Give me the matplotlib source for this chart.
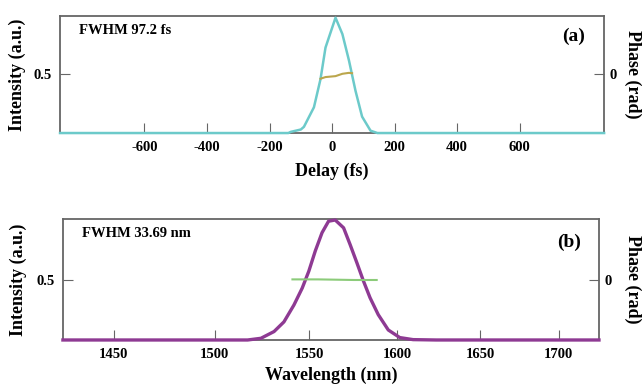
import numpy as np
import matplotlib
matplotlib.use('Agg')
import matplotlib.pyplot as plt

plt.rcParams['font.family'] = ['Liberation Serif', 'DejaVu Serif']
plt.rcParams['font.weight'] = 'bold'
plt.rcParams['axes.unicode_minus'] = False

# temporal profile
delay = [-870, -140, -132, -100, -90, -58, -37, -21, 11, 33, 54, 75, 96, 123, 145, 870]
pulse = [0, 0, 0.01, 0.03, 0.053, 0.22, 0.46, 0.73, 0.985, 0.845, 0.62, 0.36, 0.14, 0.02, 0, 0]
delay_ph = [-37, -21, 11, 33, 54, 64]
phase_t = [-0.072, -0.044, -0.028, 0.012, 0.028, 0.022]

# spectrum
wl = [1426, 1517.1, 1524.1, 1531.1, 1536.4, 1541.8, 1546.3, 1549.9, 1553.5, 1557.2,
      1560.8, 1564.5, 1569.2, 1572.9, 1576.7, 1580.4, 1584.2, 1588.9, 1594.7,
      1601.4, 1609.2, 1623.0, 1727]
spec = [0, 0, 0.014, 0.07, 0.15, 0.29, 0.43, 0.57, 0.74, 0.89,
        0.985, 0.995, 0.93, 0.79, 0.64, 0.49, 0.35, 0.21, 0.083,
        0.02, 0.003, 0, 0]
wl_ph = [1541, 1555, 1565, 1575, 1588]
phase_w = [0.005, 0.005, 0.0, -0.005, -0.005]

delay_ticks = [-600, -400, -200, 0, 200, 400, 600]
wl_ticks = [1450, 1500, 1550, 1600, 1650, 1700]

spine_col = '#666666'


def style(ax, twin, left_x, right_x):
    for s in ax.spines.values():
        s.set_color(spine_col)
        s.set_linewidth(1.3)
    for s in twin.spines.values():
        s.set_visible(False)
    ax.tick_params(direction='in', length=7, color=spine_col, labelsize=10.5, width=0.8, pad=6)
    twin.tick_params(direction='in', length=7, color=spine_col, labelsize=10.5, width=0.8, pad=4)
    ax.set_ylim(0, 1.0)
    ax.set_yticks([0.5])
    ax.set_yticklabels(['0.5'])
    twin.set_ylim(-1, 1)
    twin.set_yticks([0])
    twin.set_yticklabels(['0'])
    ax.set_ylabel('Intensity (a.u.)', fontsize=13, fontweight='bold')
    ax.yaxis.set_label_coords(left_x, 0.5)
    twin.set_ylabel('Phase (rad)', fontsize=13, fontweight='bold', rotation=270, va='center')
    twin.yaxis.set_label_coords(right_x, 0.5)
    for lab in ax.get_xticklabels() + ax.get_yticklabels() + twin.get_yticklabels():
        lab.set_fontweight('bold')


fig = plt.figure(figsize=(6.42, 3.89), dpi=100)

# (a) delay
ax1 = fig.add_axes([0.0935, 0.658, 0.8475, 0.301])
tw1 = ax1.twinx()
ax1.plot(delay, pulse, color='#6ccaca', lw=1.8, clip_on=False, zorder=3)
tw1.plot(delay_ph, phase_t, color='#bba64c', lw=1.5)
ax1.set_xlim(-870, 870)
ax1.set_xticks(delay_ticks)
ax1.set_xlabel('Delay (fs)', fontsize=13, fontweight='bold', labelpad=6)
ax1.text(0.035, 0.85, 'FWHM 97.2 fs', transform=ax1.transAxes, fontsize=10.5, fontweight='bold')
ax1.text(0.922, 0.79, '(a)', transform=ax1.transAxes, fontsize=14, fontweight='bold')
style(ax1, tw1, -0.062, 1.052)

# (b) wavelength, axis linear in frequency
ax2 = fig.add_axes([0.098, 0.126, 0.835, 0.31])
ax2.set_xscale('function', functions=(lambda x: -1e4 / x, lambda y: -1e4 / y))
tw2 = ax2.twinx()
ax2.plot(wl, spec, color='#8e3a93', lw=2.4, clip_on=False, zorder=3)
tw2.plot(wl_ph, phase_w, color='#8ccb7a', lw=1.5)
ax2.set_xlim(1426, 1727)
ax2.set_xticks(wl_ticks)
ax2.set_xticklabels([str(t) for t in wl_ticks])
ax2.minorticks_off()
ax2.set_xlabel('Wavelength (nm)', fontsize=13, fontweight='bold', labelpad=4)
ax2.text(0.035, 0.85, 'FWHM 33.69 nm', transform=ax2.transAxes, fontsize=10.5, fontweight='bold')
ax2.text(0.922, 0.77, '(b)', transform=ax2.transAxes, fontsize=14, fontweight='bold')
style(ax2, tw2, -0.067, 1.062)

fig.savefig('out.png', dpi=100)
